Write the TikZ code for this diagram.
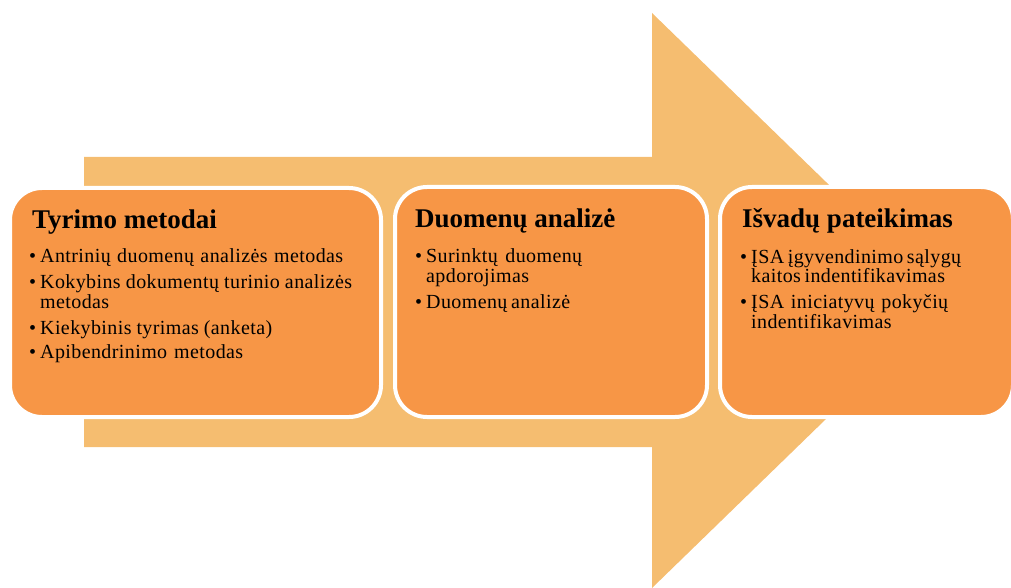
\documentclass[tikz,border=0pt]{standalone}
\usepackage{fontspec}
\setmainfont{Liberation Serif}
\newfontfamily\bodyface[LetterSpace=2]{Liberation Serif}
\definecolor{arrowfill}{RGB}{245,189,112}
\definecolor{boxfill}{RGB}{247,150,70}
\newcommand\bul{\llap{\textbullet\hspace{4pt}}}
\tikzset{
  stagebox/.style={draw=white, line width=4pt, fill=boxfill, rounded corners=32pt,
    inner sep=0pt},
  ttl/.style={anchor=base west, inner sep=0pt,
    font=\bfseries\fontsize{27}{30}\selectfont},
  txt/.style={anchor=base west, inner sep=0pt,
    font=\bodyface\fontsize{20}{20}\selectfont},
}
\begin{document}
\begin{tikzpicture}[x=1pt, y=-1pt]
\useasboundingbox (0,0) rectangle (1011,588);
\begin{scope}
\clip (0,0) rectangle (1011,588);
% big background arrow
\fill[arrowfill] (84,157) -- (652,157) -- (652,13) -- (948,300.5)
  -- (652,588) -- (652,447) -- (84,447) -- cycle;

% three stage boxes
\node[stagebox, minimum width=371pt, minimum height=229pt] (b1) at (195.5,302.5) {};
\node[stagebox, minimum width=312pt, minimum height=230pt] (b2) at (551,302) {};
\node[stagebox, minimum width=293pt, minimum height=230pt] (b3) at (866.5,302) {};
\end{scope}

% stage 1
\node[ttl] (t1) at (32,228) {Tyrimo metodai};
\node[txt] (a1) at (40,262) {\bul\makebox[303pt][s]{Antrinių duomenų analizės metodas}};
\node[txt] (a2) at (40,288) {\bul\makebox[312pt][s]{Kokybins dokumentų turinio analizės}};
\node[txt] (a3) at (40,308) {metodas};
\node[txt] (a4) at (40,334) {\bul\makebox[232pt][s]{Kiekybinis tyrimas (anketa)}};
\node[txt] (a5) at (40,358) {\bul\makebox[203pt][s]{Apibendrinimo metodas}};

% stage 2
\node[ttl] (t2) at (415,227) {Duomenų analizė};
\node[txt] (c1) at (426,262) {\bul\makebox[156pt][s]{Surinktų duomenų}};
\node[txt] (c2) at (426,282) {apdorojimas};
\node[txt] (c3) at (426,308) {\bul\makebox[144pt][s]{Duomenų analizė}};

% stage 3
\node[ttl] (t3) at (742,227) {Išvadų pateikimas};
\node[txt] (d1) at (751,263) {\bul\makebox[210pt][s]{ĮSA įgyvendinimo sąlygų}};
\node[txt] (d2) at (751,282) {\makebox[192pt][s]{kaitos indentifikavimas}};
\node[txt] (d3) at (751,308) {\bul\makebox[197pt][s]{ĮSA iniciatyvų pokyčių}};
\node[txt] (d4) at (751,328) {indentifikavimas};
\end{tikzpicture}
\end{document}
